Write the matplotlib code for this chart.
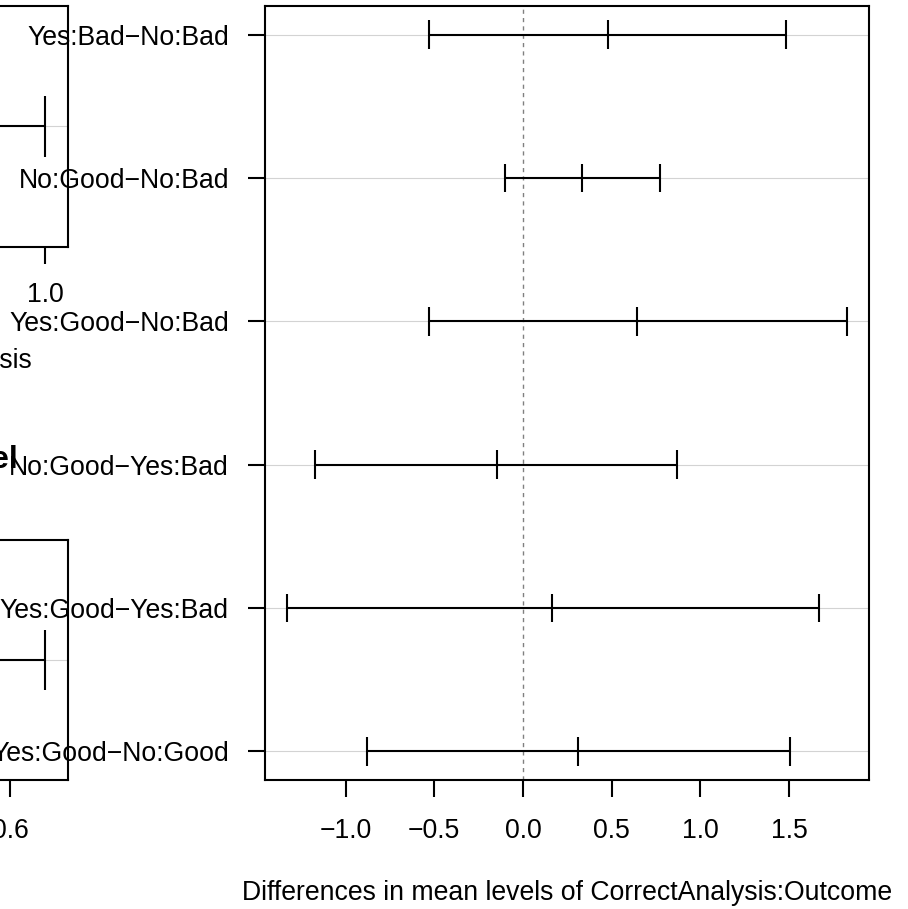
import matplotlib
matplotlib.use("Agg")
import matplotlib.pyplot as plt
import numpy as np

plt.rcParams['font.family'] = ['Liberation Sans', 'DejaVu Sans']

# Main panel: Tukey HSD for CorrectAnalysis:Outcome
comparisons = ["Yes:Bad−No:Bad", "No:Good−No:Bad", "Yes:Good−No:Bad",
               "No:Good−Yes:Bad", "Yes:Good−Yes:Bad", "Yes:Good−No:Good"]
diff = [0.478, 0.335, 0.644, -0.147, 0.164, 0.311]
lwr = [-0.530, -0.103, -0.530, -1.170, -1.328, -0.881]
upr = [1.486, 0.775, 1.825, 0.870, 1.667, 1.508]
xticks_main = [-1.0, -0.5, 0.0, 0.5, 1.0, 1.5]
main_xlabel = "Differences in mean levels of CorrectAnalysis:Outcome"

# Ghost panels (partly visible, overplotted earlier panels)
g1_diff, g1_lwr, g1_upr = [0.60], [0.20], [1.00]
g1_ticks = [0.2, 0.4, 0.6, 0.8, 1.0]
g1_xlabel = "Differences in mean levels of CorrectAnalysis"
g2_diff, g2_lwr, g2_upr = [0.34], [0.0365], [0.6365]
g2_ticks = [0.1, 0.2, 0.3, 0.4, 0.5, 0.6]
g2_title = "95% family-wise confidence level"

W, H = 908, 909
fig = plt.figure(figsize=(W / 100, H / 100), dpi=100)
FS = 19.2
LW = 1.5


def px_axes(left, top, right, bottom):
    return fig.add_axes([left / W, 1 - bottom / H, (right - left) / W, (bottom - top) / H])


def tukey(ax, names, d, lo, hi, ticks, ylabels=True):
    n = len(d)
    yvals = np.arange(n, 0, -1)
    allx = np.concatenate([lo, hi])
    r = allx.max() - allx.min()
    ax.set_xlim(allx.min() - 0.04 * r, allx.max() + 0.04 * r)
    if n > 1:
        ax.set_ylim(1 - 0.04 * (n - 1), n + 0.04 * (n - 1))
    else:
        ax.set_ylim(0.6, 1.4)
    for y in yvals:
        ax.axhline(y, color='#d3d3d3', lw=0.8, zorder=1)
    ax.axvline(0, color='#808080', lw=1.0, ls=(0, (3, 3)), zorder=2)
    ax.hlines(yvals, lo, hi, color='black', lw=LW, zorder=3)
    for arr in (lo, d, hi):
        ax.vlines(arr, yvals - 0.1, yvals + 0.1, color='black', lw=LW, zorder=3)
    ax.set_xticks(ticks)
    ax.set_xticklabels([f"{t:.1f}".replace('-', '−') for t in ticks])
    ax.set_yticks(yvals)
    ax.set_yticklabels(names if ylabels else [''] * n)
    ax.tick_params(axis='both', length=12, width=LW, labelsize=FS, color='black')
    ax.tick_params(axis='x', pad=15)
    ax.tick_params(axis='y', pad=14)
    for s in ax.spines.values():
        s.set_linewidth(LW)


def px_text(x, y, s, **kw):
    fig.text(x / W, 1 - y / H, s, **kw)


# Ghost panel 1
ax1 = px_axes(68 - 621, 6, 68, 247)
tukey(ax1, ["a"], g1_diff, g1_lwr, g1_upr, g1_ticks, ylabels=False)
ax1.tick_params(axis='x', pad=13)
px_text(32, 368, g1_xlabel, ha='right', va='baseline', fontsize=FS)

# Ghost panel 2
ax2 = px_axes(68 - 621, 540, 68, 780)
tukey(ax2, ["b"], g2_diff, g2_lwr, g2_upr, g2_ticks, ylabels=False)
px_text(18, 468, g2_title, ha='right', va='baseline', fontsize=FS * 1.2, fontweight='bold')

# Main panel
ax = px_axes(265, 6, 869, 780)
tukey(ax, comparisons, diff, lwr, upr, xticks_main)
px_text(567, 900, main_xlabel, ha='center', va='baseline', fontsize=FS)

fig.savefig("out.png", dpi=100)
